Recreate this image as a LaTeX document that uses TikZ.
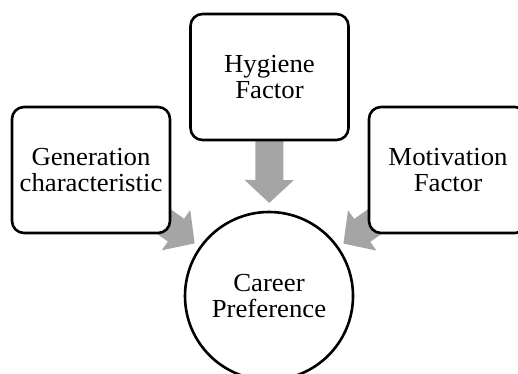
\documentclass[tikz,border=0pt]{standalone}
\usepackage{fontspec}
\setmainfont[FakeStretch=1.03]{Liberation Serif}
\usetikzlibrary{calc,arrows.meta,backgrounds}
\definecolor{arrowgray}{HTML}{A5A5A5}
\begin{document}
\begin{tikzpicture}[x=1pt,y=1pt,
  box/.style={draw=black,line width=2.6pt,rounded corners=12pt,fill=white,
    minimum width=158pt,minimum height=126pt,align=center,inner sep=0pt,
    font=\fontsize{26}{26}\selectfont},
  circ/.style={draw=black,line width=2.6pt,circle,fill=white,minimum size=168pt,
    align=center,inner sep=0pt,font=\fontsize{26}{26}\selectfont},
  bigarrow/.style={draw=arrowgray,line width=28pt,
    -{Triangle[width=48pt,length=23pt]},arrowgray}]
\useasboundingbox (0,0) rectangle (518,373);
\node[box] (hyg) at (269.5,296) {Hygiene\\Factor};
\node[box] (gen) at (91,203) {Generation\\characteristic};
\node[box] (mot) at (448,203) {Motivation\\Factor};
\node[circ] (car) at (269,77) {Career\\Preference};
\begin{scope}[on background layer]
\coordinate (t1) at ($(car.center)!91pt!(gen.center)$);
\coordinate (t2) at ($(car.center)!93pt!(hyg.center)$);
\coordinate (t3) at ($(car.center)!91pt!(mot.center)$);
\draw[bigarrow] (gen.center) -- (t1);
\draw[bigarrow] (hyg.center) -- (t2);
\draw[bigarrow] (mot.center) -- (t3);
\end{scope}
\end{tikzpicture}
\end{document}
